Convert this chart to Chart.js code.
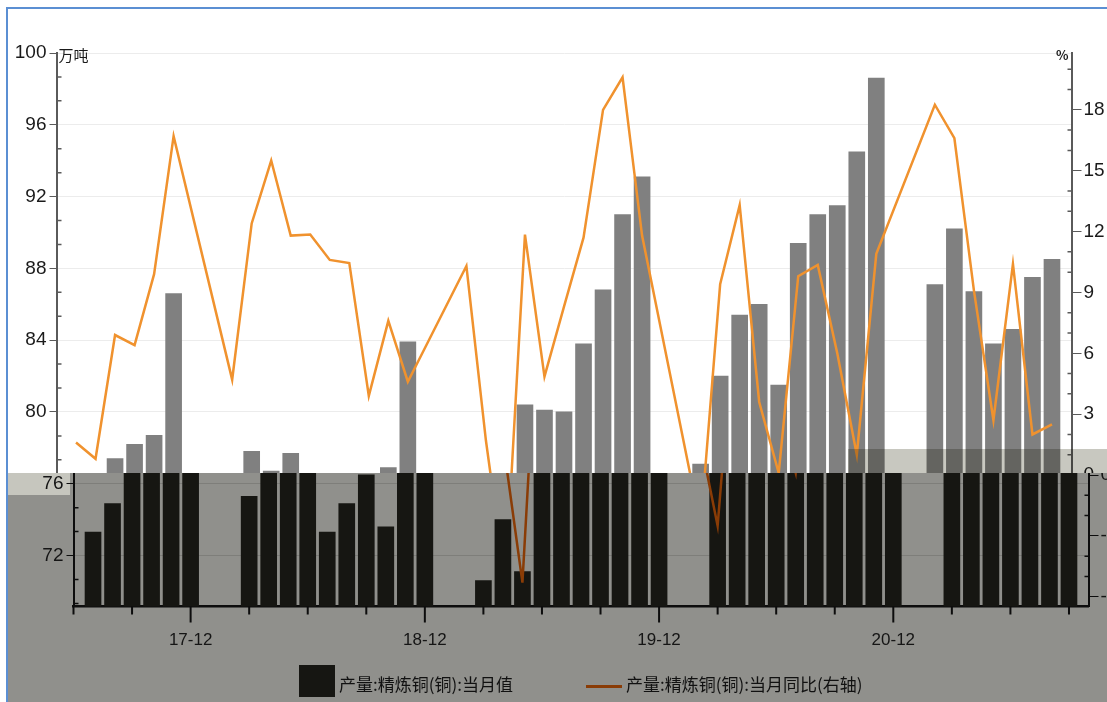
<!DOCTYPE html>
<html>
<head>
<meta charset="utf-8">
<script src="https://cdn.jsdelivr.net/npm/chart.js@4.4.0/dist/chart.umd.min.js"></script>
<style>
  html, body { margin: 0; padding: 0; background: #fff; }
  #wrap { position: relative; width: 1107px; height: 702px; overflow: hidden; background: #fff; }
  #lower { position: absolute; left: 8px; top: 0; width: 1099px; height: 702px; background: #90908c; overflow: hidden; }
  #patch { position: absolute; left: 0; top: 473px; width: 62px; height: 22px; background: #c6c6be; }
  #lowerChart { position: absolute; left: -8px; top: 0; }
  #upper { position: absolute; left: 0; top: 0; width: 1107px; height: 473px; overflow: hidden; background: #fff; }
  #upperChart { position: absolute; left: -17px; top: 0; }
  #band { position: absolute; left: 848px; top: 449px; width: 259px; height: 24px; background: #c8c8c0; mix-blend-mode: multiply; }
  .frame { position: absolute; background: #5b8fd3; }
  .legend { position: absolute; font: 17px 'Noto Sans CJK SC', sans-serif; color: #111; white-space: nowrap; line-height: 20px; }
</style>
</head>
<body>
<div id="wrap">
  <div id="lower">
    <div id="patch"></div>
    <canvas id="lowerChart" width="1130" height="702"></canvas>
  </div>
  <div id="upper">
    <canvas id="upperChart" width="1130" height="702"></canvas>
  </div>
  <div id="band"></div>
  <div class="frame" style="left:6px;top:7px;width:2px;height:695px"></div>
  <div class="frame" style="left:6px;top:7px;width:1101px;height:2px"></div>

  <div style="position:absolute;left:299px;top:665px;width:36px;height:32px;background:#161612"></div>
  <div class="legend" style="left:339px;top:674px">产量:精炼铜(铜):当月值</div>
  <div style="position:absolute;left:586px;top:685px;width:36px;height:3px;background:#8a3c06"></div>
  <div class="legend" style="left:626px;top:674px">产量:精炼铜(铜):当月同比(右轴)</div>
</div>

<script>
const months = [
  '17-06', '17-07', '17-08', '17-09', '17-10', '17-11', '17-12',
  '18-01', '18-02', '18-03', '18-04', '18-05', '18-06', '18-07', '18-08', '18-09', '18-10', '18-11', '18-12',
  '19-01', '19-02', '19-03', '19-04', '19-05', '19-06', '19-07', '19-08', '19-09', '19-10', '19-11', '19-12',
  '20-01', '20-02', '20-03', '20-04', '20-05', '20-06', '20-07', '20-08', '20-09', '20-10', '20-11', '20-12',
  '21-01', '21-02', '21-03', '21-04', '21-05', '21-06', '21-07', '21-08', '21-09', '21-10'
];

// 产量:精炼铜(铜):当月值, 万吨
const output = [
  null, 73.3, 74.9, 77.4, 78.2, 78.7, 86.6,
  null, null, 75.3, 77.8, 76.7, 77.7, 73.3, 74.9, 76.5, 73.6, 76.9, 83.9,
  null, null, 70.6, 74.0, 71.1, 80.4, 80.1, 80.0, 83.8, 86.8, 91.0, 93.1,
  null, null, 77.1, 82.0, 85.4, 86.0, 81.5, 89.4, 91.0, 91.5, 94.5, 98.6,
  null, null, 87.1, 90.2, 86.7, 83.8, 84.6, 87.5, 88.5, null
];

// 产量:精炼铜(铜):当月同比, %
const yoy = [
  null, 1.6, 0.8, 6.9, 6.4, 9.9, 16.7,
  null, null, 4.7, 12.4, 15.5, 11.8, 11.85, 10.6, 10.45, 3.9, 7.6, 4.6,
  null, null, 10.3, 1.7, -5.3, 11.85, 4.85, 8.3, 11.7, 18.0, 19.6, 11.8,
  null, null, -2.5, 9.4, 13.3, 3.6, 0.1, 9.8, 10.35, 6.0, 1.0, 10.9,
  null, null, 18.25, 16.6, 9.1, 2.7, 10.4, 2.0, 2.5, null
];

const leftTicks = [72, 76, 80, 84, 88, 92, 96, 100];
const rightTicks = [-6, -3, 0, 3, 6, 9, 12, 15, 18];

const NARROW = "'Liberation Sans Narrow', 'Liberation Sans', sans-serif";

// small inner ticks, x-axis ticks and unit labels
const axisDecor = {
  id: 'axisDecor',
  afterDraw(chart, args, opts) {
    const { ctx, chartArea: a } = chart;
    const { x, y, y1 } = chart.scales;
    ctx.save();
    ctx.strokeStyle = opts.axis;
    ctx.lineWidth = 1.5;
    ctx.beginPath();
    for (let k = 1; k < 24; k++) {
      if (k % 3 === 0) continue;
      const v = 100 - k * 4 / 3;
      if (v < y.min) break;
      const py = y.getPixelForValue(v);
      ctx.moveTo(a.left, py);
      ctx.lineTo(a.left + 5, py);
    }
    for (let v = -6; v <= 20; v++) {
      if (v % 3 === 0) continue;
      const py = y1.getPixelForValue(v);
      ctx.moveTo(a.right - 4, py);
      ctx.lineTo(a.right, py);
    }
    ctx.stroke();

    ctx.lineWidth = 2;
    ctx.beginPath();
    months.forEach((m, i) => {
      if (i % 3) return;
      const px = x.getPixelForValue(i);
      const len = m.endsWith('-12') ? 16 : 8;
      ctx.moveTo(px, a.bottom);
      ctx.lineTo(px, a.bottom + len);
    });
    ctx.stroke();

    ctx.fillStyle = opts.text;
    ctx.font = "15px 'Noto Sans CJK SC', sans-serif";
    ctx.textAlign = 'left';
    ctx.textBaseline = 'alphabetic';
    ctx.fillText('万吨', a.left + 2, a.top + 8);
    ctx.font = "bold 13px 'Noto Sans CJK SC', sans-serif";
    ctx.textAlign = 'right';
    ctx.fillText('%', a.right - 3, a.top + 7);
    ctx.restore();
  }
};

function buildChart(id, pal) {
  return new Chart(document.getElementById(id), {
    type: 'bar',
    data: {
      labels: months,
      datasets: [
        {
          type: 'line',
          label: '产量:精炼铜(铜):当月同比(右轴)',
          data: yoy,
          yAxisID: 'y1',
          borderColor: pal.line,
          borderWidth: 2.5,
          pointRadius: 0,
          spanGaps: true,
          tension: 0,
          order: 1,
        },
        {
          type: 'bar',
          label: '产量:精炼铜(铜):当月值',
          data: output,
          yAxisID: 'y',
          backgroundColor: pal.bar,
          barThickness: 16,
          order: 2,
        },
      ],
    },
    options: {
      responsive: false,
      animation: false,
      devicePixelRatio: 1,
      layout: { padding: { top: 53, left: 0, right: 0, bottom: 0 } },
      plugins: {
        legend: { display: false },
        tooltip: { enabled: false },
        axisDecor: { axis: pal.axis, text: pal.text },
      },
      scales: {
        x: {
          offset: false,
          grid: { display: true, drawOnChartArea: false, drawTicks: false },
          border: { display: true, color: pal.axis, width: 2.5 },
          ticks: {
            autoSkip: false,
            maxRotation: 0,
            padding: 24,
            color: pal.text,
            font: { family: NARROW, size: 17 },
            callback: (v, i) => (months[i].endsWith('-12') ? months[i] : ''),
          },
          afterFit: (s) => { s.height = 95.5; },
        },
        y: {
          position: 'left',
          min: 69.16,
          max: 100,
          afterBuildTicks: (s) => { s.ticks = leftTicks.map((v) => ({ value: v })); },
          afterFit: (s) => { s.width = 73.5; },
          grid: { color: pal.grid, tickColor: pal.axis, tickLength: 7, lineWidth: 1 },
          border: { color: pal.axis, width: 2 },
          ticks: { padding: 3, color: pal.text, font: { family: NARROW, size: 19 } },
        },
        y1: {
          position: 'right',
          min: -6.48,
          max: 20.8,
          afterBuildTicks: (s) => { s.ticks = rightTicks.map((v) => ({ value: v })); },
          afterFit: (s) => { s.width = 41.5; },
          grid: { drawOnChartArea: false, tickColor: pal.axis, tickLength: 10 },
          border: { color: pal.axis, width: 2 },
          ticks: { padding: 2, color: pal.text, font: { family: NARROW, size: 19 } },
        },
      },
    },
    plugins: [axisDecor],
  });
}

buildChart('lowerChart', { bar: '#161612', line: '#8a3c06', axis: '#0d0d0d', text: '#151515', grid: '#7e7e7a' });
buildChart('upperChart', { bar: '#808080', line: '#f0922e', axis: '#5a5a5a', text: '#1a1a1a', grid: '#ececec' });
</script>
</body>
</html>
